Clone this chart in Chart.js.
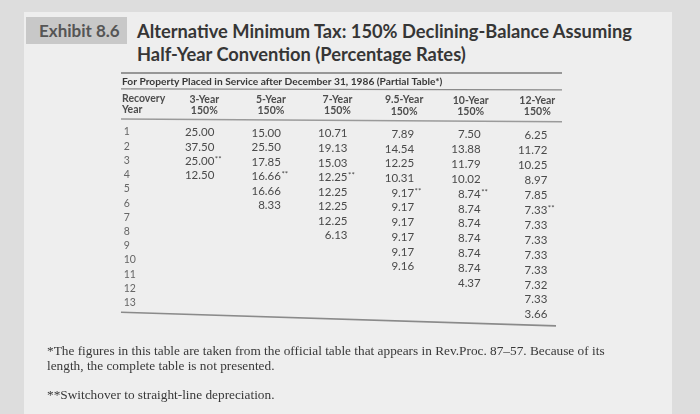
<!DOCTYPE html>
<html>
<head>
<meta charset="utf-8">
<script src="https://cdn.jsdelivr.net/npm/chart.js@4.4.1/dist/chart.umd.min.js"></script>
<style>
  html, body { margin: 0; padding: 0; }
  body { width: 700px; height: 414px; position: relative; overflow: hidden; background: #dddddd; font-family: Lato, sans-serif; }
  #paper { position: absolute; left: 24px; top: 12px; width: 648px; height: 402px; background: #eeeeee; }
  #exhibit { position: absolute; left: 26px; top: 17px; width: 101px; height: 27px; background: #c8c8c8; color: #555; font: bold 17px Lato, sans-serif; line-height: 27px; text-indent: 13px; }
  #title { position: absolute; left: 137px; top: 20px; color: #363636; font: bold 18.3px Lato, sans-serif; line-height: 23px; white-space: nowrap; }
  .note { position: absolute; left: 47px; font-family: 'Liberation Serif', serif; font-size: 13.3px; line-height: 15px; color: #383838; white-space: nowrap; }
  #chart { position: absolute; left: 0; top: 0; }
</style>
</head>
<body>
<div id="paper"></div>
<div id="exhibit">Exhibit 8.6</div>
<div id="title">Alternative Minimum Tax: 150% Declining-Balance Assuming<br>Half-Year Convention (Percentage Rates)</div>
<canvas id="chart" width="700" height="414"></canvas>
<div class="note" style="top:343px">*The figures in this table are taken from the official table that appears in Rev.Proc. 87–57. Because of its</div>
<div class="note" style="top:358px">length, the complete table is not presented.</div>
<div class="note" style="top:387px">**Switchover to straight-line depreciation.</div>
<script>
const subtitle = 'For Property Placed in Service after December 31, 1986 (Partial Table*)'
const recoveryYears = [1, 2, 3, 4, 5, 6, 7, 8, 9, 10, 11, 12, 13]
const columnHeads = ['3-Year', '5-Year', '7-Year', '9.5-Year', '10-Year', '12-Year']
const methodLabel = '150%'
const rates3 = [25.00, 37.50, 25.00, 12.50]
const rates5 = [15.00, 25.50, 17.85, 16.66, 16.66, 8.33]
const rates7 = [10.71, 19.13, 15.03, 12.25, 12.25, 12.25, 12.25, 6.13]
const rates95 = [7.89, 14.54, 12.25, 10.31, 9.17, 9.17, 9.17, 9.17, 9.17, 9.16]
const rates10 = [7.50, 13.88, 11.79, 10.02, 8.74, 8.74, 8.74, 8.74, 8.74, 8.74, 4.37]
const rates12 = [6.25, 11.72, 10.25, 8.97, 7.85, 7.33, 7.33, 7.33, 7.33, 7.33, 7.32, 7.33, 3.66]
// year flagged with ** (switchover to straight-line), one per column
const switchoverYear = [3, 4, 4, 5, 5, 6]

const allRates = [rates3, rates5, rates7, rates95, rates10, rates12]

// layout of the photographed page
const W = 700
const H = 414
const TOP_RULE = 73
const ROW1 = 132
const ROW_H = 14.2
const COL1_X = 202.3
const COL_STEP = 66.6
const TILT = 0.055 // the photo is stretched a bit towards the bottom right

const TEXT = '#4a4a4a'
const HEAD = '#4d4d4d'
const RULE = '#8a8a8a'

function colCenter(c) {
  return COL1_X + COL_STEP * (c - 1)
}

function rowAxis(c) {
  const f = 1 + TILT * (colCenter(c) - 125) / 420
  const min = 1 - (ROW1 - TOP_RULE) / ROW_H
  const max = min + (H - TOP_RULE) / (ROW_H * f)
  return {
    type: 'linear', axis: 'y', position: 'left', display: false, reverse: true,
    min, max, grid: { display: false }, ticks: { display: false },
  }
}

const HEAD1 = -1.32
const HEAD2 = -0.55
const SUB_ROW = -2.56
const SUB_RULE = -2.03
const HEAD_RULE = 0.085
const BOTTOM_RULE = 13.7

const datasets = [{
  label: 'Recovery Year',
  yAxisID: 'y0',
  data: recoveryYears.map((y) => ({ x: 0, y })),
  pointRadius: 0,
}]
allRates.forEach((rates, i) => {
  datasets.push({
    label: columnHeads[i],
    yAxisID: 'y' + (i + 1),
    data: rates.map((v, k) => ({ x: i + 1, y: recoveryYears[k], v })),
    pointRadius: 0,
  })
})

const scales = {
  x: {
    type: 'linear', display: false,
    min: -(COL1_X - COL_STEP) / COL_STEP,
    max: (W - COL1_X + COL_STEP) / COL_STEP,
  },
  y: { display: false },
}
for (let c = 0; c <= 6; c++) scales['y' + c] = rowAxis(c)

const tableText = {
  id: 'tableText',
  afterDatasetsDraw(chart) {
    const ctx = chart.ctx
    const xs = chart.scales.x
    const left = chart.scales.y0
    const right = chart.scales.y6
    ctx.save()
    ctx.textBaseline = 'middle'

    // horizontal rules, following the tilt of the photo
    const xa = xs.getPixelForValue(0)
    const xb = xs.getPixelForValue(6)
    const rule = (v, x1, x2, width, color) => {
      const ya = left.getPixelForValue(v)
      const yb = right.getPixelForValue(v)
      const at = (x) => ya + (yb - ya) * (x - xa) / (xb - xa)
      ctx.beginPath()
      ctx.lineWidth = width
      ctx.strokeStyle = color
      ctx.moveTo(x1, at(x1))
      ctx.lineTo(x2, at(x2))
      ctx.stroke()
    }
    rule(left.min, 121, 562, 1.5, '#7a7a7a')
    rule(SUB_RULE, 121, 562, 1.2, RULE)
    rule(HEAD_RULE, 121, 562, 1.5, '#9a9a9a')
    rule(BOTTOM_RULE, 121, 556, 1.6, RULE)

    // subtitle
    ctx.fillStyle = '#383838'
    ctx.font = 'bold 10.2px Lato, sans-serif'
    ctx.textAlign = 'left'
    ctx.fillText(subtitle, 122, left.getPixelForValue(SUB_ROW))

    // column heads
    ctx.fillStyle = HEAD
    ctx.font = 'bold 10.5px Lato, sans-serif'
    ctx.fillText('Recovery', 122, left.getPixelForValue(HEAD1))
    ctx.fillText('Year', 122, left.getPixelForValue(HEAD2))
    ctx.textAlign = 'center'
    columnHeads.forEach((head, i) => {
      const ys = chart.scales['y' + (i + 1)]
      const x = xs.getPixelForValue(i + 1) + 2
      ctx.fillText(head, x, ys.getPixelForValue(HEAD1))
      ctx.fillText(methodLabel, x, ys.getPixelForValue(HEAD2))
    })

    // cells
    chart.data.datasets.forEach((ds, di) => {
      const meta = chart.getDatasetMeta(di)
      meta.data.forEach((pt, k) => {
        const cell = ds.data[k]
        if (di === 0) {
          ctx.fillStyle = '#666'
          ctx.font = '10.5px Lato, sans-serif'
          ctx.textAlign = 'left'
          ctx.fillText(String(cell.y), pt.x - 12, pt.y)
          return
        }
        ctx.fillStyle = TEXT
        ctx.font = '11.5px Lato, sans-serif'
        ctx.textAlign = 'right'
        const xr = pt.x + 12
        ctx.fillText(cell.v.toFixed(2), xr, pt.y)
        if (cell.y === switchoverYear[di - 1]) {
          ctx.textAlign = 'left'
          ctx.font = '8px Lato, sans-serif'
          ctx.fillText('**', xr + 0.5, pt.y - 2)
        }
      })
    })
    ctx.restore()
  },
}

new Chart(document.getElementById('chart'), {
  type: 'scatter',
  data: { datasets },
  options: {
    responsive: false,
    animation: false,
    events: [],
    layout: { padding: { top: TOP_RULE, left: 0, right: 0, bottom: 0 } },
    plugins: {
      legend: { display: false },
      tooltip: { enabled: false },
      title: { display: false },
    },
    scales,
  },
  plugins: [tableText],
})
</script>
</body>
</html>
